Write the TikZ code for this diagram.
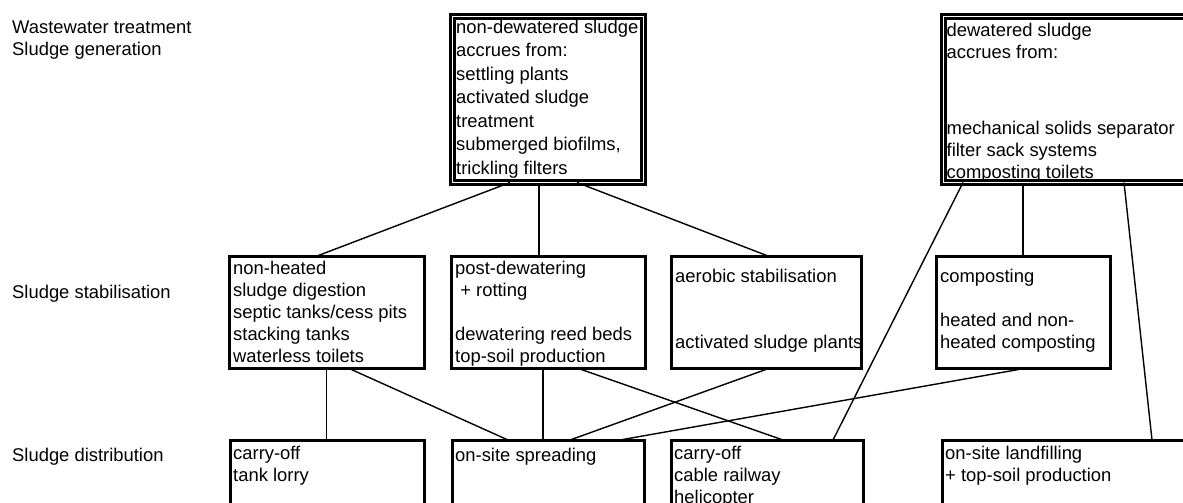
\documentclass[tikz,border=0pt]{standalone}
\usepackage{fontspec}
\setmainfont{Liberation Sans}
\tikzset{
  box/.style={draw, line width=3pt, outer sep=0pt, inner sep=0pt, anchor=north west, minimum height=112pt},
  genbox/.style={box, double, line width=2.75pt, double distance=1.5pt, minimum height=166pt},
  txt/.style={anchor=north west, inner sep=0pt, align=left, font=\fontsize{18.4}{22}\selectfont, execute at begin node=\strut},
  link/.style={line width=1.4pt},
}
\begin{document}
\begin{tikzpicture}[x=1pt,y=-1pt]
\useasboundingbox (0,0) rectangle (1183,503);
\clip (0,0) rectangle (1183,503);

% levels
\node[txt] (lvlgen) at (12,20.6) {Wastewater treatment\\Sludge generation};
\node[txt] (lvlstab) at (12,282.6) {Sludge stabilisation};
\node[txt] (lvldist) at (12,445.6) {Sludge distribution};

% sludge generation
\node[genbox, minimum width=191pt] (gen1) at (452.5,16.5) {};
\node[txt, font=\fontsize{18.4}{23.5}\selectfont] (gen1t) at ([xshift=3.5,yshift=-3]gen1.north west)
  {non-dewatered sludge\\accrues from:\\settling plants\\activated sludge\\treatment\\submerged biofilms,\\trickling filters};

\node[genbox, minimum width=257pt] (gen2) at (943.5,16.5) {};
\node[txt] (gen2t) at ([xshift=3,yshift=-6]gen2.north west)
  {dewatered sludge\\accrues from:\\[54pt]mechanical solids separator\\filter sack systems\\composting toilets};

% sludge stabilisation
\node[box, minimum width=195pt] (stab1) at (229,256) {};
\node[txt] (stab1t) at ([xshift=4,yshift=-4.6]stab1.north west)
  {non-heated\\sludge digestion\\septic tanks/cess pits\\stacking tanks\\waterless toilets};

\node[box, minimum width=194pt] (stab2) at (451,256) {};
\node[txt] (stab2t) at ([xshift=4,yshift=-4.6]stab2.north west)
  {post-dewatering\\\ + rotting\\[22pt]dewatering reed beds\\top-soil production};

\node[box, minimum width=190pt] (stab3) at (671,256) {};
\node[txt] (stab3t) at ([xshift=4,yshift=-4.6]stab3.north west)
  {\\aerobic stabilisation\\[44pt]activated sludge plants};

\node[box, minimum width=174pt] (stab4) at (936,256) {};
\node[txt] (stab4t) at ([xshift=4,yshift=-4.6]stab4.north west)
  {\\composting\\[22pt]heated and non-\\heated composting};

% sludge distribution
\node[box, minimum width=194pt] (dist1) at (230,440) {};
\node[txt] (dist1t) at ([xshift=3,yshift=-5.6]dist1.north west) {carry-off\\tank lorry};

\node[box, minimum width=192pt] (dist2) at (452,440) {};
\node[txt] (dist2t) at ([xshift=3,yshift=-5.6]dist2.north west) {on-site spreading};

\node[box, minimum width=192pt] (dist3) at (671,440) {};
\node[txt] (dist3t) at ([xshift=3,yshift=-5.6]dist3.north west) {carry-off\\cable railway\\helicopter};

\node[box, minimum width=260pt] (dist4) at (942,440) {};
\node[txt] (dist4t) at ([xshift=3,yshift=-5.6]dist4.north west) {on-site landfilling\\+ top-soil production};

% links
\draw[link] ([xshift=-38]gen1.south) -- ([xshift=-9.5]stab1.north);
\draw[link] ([xshift=-9]gen1.south) -- ([xshift=-9]stab2.north);
\draw[link] ([xshift=29]gen1.south) -- ([xshift=2]stab3.north);

\draw[link] ([xshift=19.5]gen2.south west) -- ([xshift=66]dist3.north);
\draw[link] (stab4.north) -- (stab4.north |- gen2.south);
\draw[link] ([xshift=180.5]gen2.south west) -- ([xshift=210]dist4.north west);

\draw[link] (stab1.south) -- (stab1.south |- dist1.north);
\draw[link] ([xshift=21.5]stab1.south) -- ([xshift=-40]dist2.north);
\draw[link] ([xshift=-5]stab2.south) -- ([xshift=-5]dist2.north);
\draw[link] ([xshift=29]stab2.south) -- ([xshift=16]dist3.north);
\draw[link] ([xshift=4]stab3.south) -- ([xshift=22]dist2.north);
\draw[link] ([xshift=4]stab4.south) -- ([xshift=72]dist2.north);

\end{tikzpicture}
\end{document}
